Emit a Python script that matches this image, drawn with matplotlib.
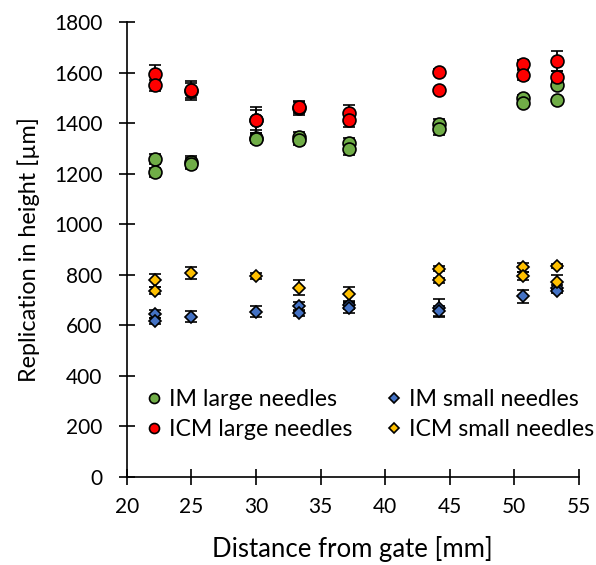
import matplotlib
matplotlib.use("Agg")
import matplotlib.pyplot as plt
from matplotlib.lines import Line2D

plt.rcParams['font.family'] = ['Lato', 'DejaVu Sans']

# Distance from gate [mm] for each measured point
x_large = [22.2, 22.2, 25.0, 25.0, 30.0, 30.0, 33.3, 33.3,
           37.2, 37.2, 44.15, 44.15, 50.7, 50.7, 53.3, 53.3]

im_large = [1258, 1206, 1246, 1240, 1340, 1336, 1346, 1332,
            1320, 1296, 1396, 1375, 1501, 1478, 1552, 1490]
im_large_err = [20, 18, 25, 20, 20, 15, 20, 20,
                22, 22, 22, 22, 10, 10, 10, 8]

icm_large = [1595, 1549, 1528, 1530, 1412, 1412, 1461, 1462,
             1440, 1411, 1603, 1530, 1632, 1592, 1646, 1584]
icm_large_err = [35, 20, 38, 30, 52, 40, 27, 22,
                 30, 28, 10, 8, 18, 20, 39, 22]

x_small = [22.2, 22.2, 25.0, 30.0, 33.3, 33.3, 37.2, 37.2,
           44.15, 44.15, 50.7, 53.3, 53.3]
im_small = [645, 617, 634, 654, 675, 648, 680, 670,
            668, 656, 714, 748, 737]
im_small_err = [15, 12, 22, 22, 18, 12, 15, 20,
                35, 20, 24, 10, 10]

x_small_icm = [22.2, 22.2, 25.0, 30.0, 33.3, 37.2,
               44.15, 44.15, 50.7, 50.7, 53.3, 53.3]
icm_small = [778, 737, 808, 794, 748, 722,
             823, 778, 830, 795, 833, 773]
icm_small_err = [25, 15, 24, 12, 30, 31,
                 10, 10, 18, 15, 8, 25]

x_ticks = [20, 25, 30, 35, 40, 45, 50, 55]
y_ticks = [0, 200, 400, 600, 800, 1000, 1200, 1400, 1600, 1800]

GREEN = "#70AD47"
RED = "#FF0000"
BLUE = "#4472C4"
GOLD = "#FFC000"

fig = plt.figure(figsize=(5.96, 5.65), dpi=100)
ax = fig.add_axes([0.213, 0.156, 0.758, 0.805])

common = dict(linestyle="none", ecolor="black", elinewidth=1.3,
              capsize=4.3, capthick=1.3, markeredgecolor="black")

ax.errorbar(x_large, im_large, yerr=im_large_err, marker="o", markersize=9.3,
            markerfacecolor=GREEN, markeredgewidth=1.2, **common)
ax.errorbar(x_large, icm_large, yerr=icm_large_err, marker="o", markersize=9.3,
            markerfacecolor=RED, markeredgewidth=1.2, **common)
ax.errorbar(x_small, im_small, yerr=im_small_err, marker="D", markersize=5.8,
            markerfacecolor=BLUE, markeredgewidth=1.2, **common)
ax.errorbar(x_small_icm, icm_small, yerr=icm_small_err, marker="D", markersize=5.8,
            markerfacecolor=GOLD, markeredgewidth=1.2, **common)

ax.set_xlim(20, 55)
ax.set_ylim(0, 1800)
ax.set_xticks(x_ticks)
ax.set_yticks(y_ticks)
for s in ("top", "right"):
    ax.spines[s].set_visible(False)
for s in ("left", "bottom"):
    ax.spines[s].set_linewidth(1.2)
    ax.spines[s].set_color("black")
ax.tick_params(direction="inout", length=11.5, width=1.2, labelsize=15,
               colors="black")
ax.tick_params(axis="y", pad=12)
ax.tick_params(axis="x", pad=9)

ax.set_xlabel("Distance from gate [mm]", fontsize=18.5, va="top")
ax.set_ylabel("Replication in height [µm]", fontsize=16.8, va="bottom")
ax.xaxis.set_label_coords(0.5, -0.131)
ax.yaxis.set_label_coords(-0.192, 0.5)

handles = [
    Line2D([], [], linestyle="none", marker="o", markersize=7.2,
           markerfacecolor=GREEN, markeredgecolor="black", markeredgewidth=1.2),
    Line2D([], [], linestyle="none", marker="o", markersize=7.2,
           markerfacecolor=RED, markeredgecolor="black", markeredgewidth=1.2),
    Line2D([], [], linestyle="none", marker="D", markersize=5.2,
           markerfacecolor=BLUE, markeredgecolor="black", markeredgewidth=1.2),
    Line2D([], [], linestyle="none", marker="D", markersize=5.2,
           markerfacecolor=GOLD, markeredgecolor="black", markeredgewidth=1.2),
]
labels = ["IM large needles", "ICM large needles",
          "IM small needles", "ICM small needles"]
ax.legend(handles, labels, ncol=2, frameon=False, fontsize=16.7,
          loc="upper left", bbox_to_anchor=(0.247, 0.311),
          bbox_transform=fig.transFigure, handlelength=0.6, handletextpad=0.35,
          columnspacing=1.5, labelspacing=0.36, borderaxespad=0,
          borderpad=0)

fig.savefig("out.png", dpi=100)
